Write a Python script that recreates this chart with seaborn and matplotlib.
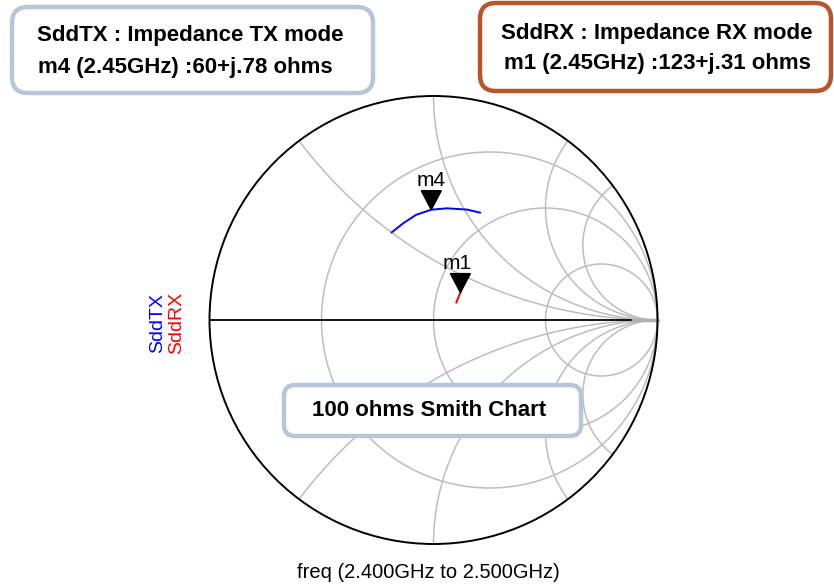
import numpy as np
import pandas as pd
import matplotlib
matplotlib.use("Agg")
import matplotlib.pyplot as plt
from matplotlib.patches import FancyBboxPatch, Circle, Polygon
import seaborn as sns

# impedance traces (ohms, 100 ohm reference)
z0 = 100.0
freq_tx = [2.400, 2.417, 2.433, 2.450, 2.467, 2.483, 2.500]
z_tx = [52+50j, 54+59j, 56+68j, 60+78j, 66+88j, 76+102j, 85+112j]
freq_rx = [2.400, 2.425, 2.450, 2.475, 2.500]
z_rx = [121+19j, 122+25j, 123+31j, 123+37j, 123+43j]
marker_freq = 2.45
marker_tx = "m4"
marker_rx = "m1"

# smith grid values (normalised)
r_circles = [1/3, 1, 3]
x_arcs = [0.5, 1, 2, 3]

title_tx = ["SddTX : Impedance TX mode", "m4 (2.45GHz) :60+j.78 ohms"]
title_rx = ["SddRX : Impedance RX mode", "m1 (2.45GHz) :123+j.31 ohms"]
chart_note = "100 ohms Smith Chart"
freq_label = "freq (2.400GHz to 2.500GHz)"

sns.set_theme(style="white")
plt.rcParams['font.family'] = ['Liberation Sans', 'DejaVu Sans']
plt.rcParams['text.color'] = 'black'

# chart centre / radius in pixels
CX, CY, R = 433.5, 320.0, 224.0
def gx(p):
    return (p - CX) / R
def gy(p):
    return (CY - p) / R

def gamma(z):
    zn = np.asarray(z) / z0
    return (zn - 1) / (zn + 1)

fig = plt.figure(figsize=(8.34, 5.85), dpi=100)
ax = fig.add_axes([0, 0, 1, 1])

grid_col = "#bdbdbd"
# resistance circles
for r in r_circles:
    ax.add_patch(Circle((r/(1+r), 0), 1/(1+r), fill=False, ec=grid_col, lw=1.1, zorder=1))
# reactance arcs
rr = np.tan(np.linspace(0, np.pi/2 - 1e-3, 600))
for x in x_arcs:
    for s in (1, -1):
        zz = rr + 1j*s*x
        g = (zz - 1) / (zz + 1)
        ax.plot(g.real, g.imag, color=grid_col, lw=1.1, zorder=1)

# real axis and outer circle
ax.plot([-1, 0.88], [0, 0], color="black", lw=1.3, zorder=2)
ax.plot([0.88, 1], [0, 0], color="#b0b0b0", lw=2.5, zorder=1)
ax.add_patch(Circle((0, 0), 1, fill=False, ec="black", lw=1.4, zorder=3))

# traces
g_tx = gamma(z_tx)
g_rx = gamma(z_rx)
df_tx = pd.DataFrame({"freq": freq_tx, "re": g_tx.real, "im": g_tx.imag})
df_rx = pd.DataFrame({"freq": freq_rx, "re": g_rx.real, "im": g_rx.imag})
sns.lineplot(data=df_tx, x="re", y="im", sort=False, estimator=None,
             color="blue", lw=1.4, ax=ax, legend=False, zorder=4)
sns.lineplot(data=df_rx, x="re", y="im", sort=False, estimator=None,
             color="red", lw=1.4, ax=ax, legend=False, zorder=4)

# markers
for df, name, dx in [(df_tx, marker_tx, 0), (df_rx, marker_rx, -3)]:
    row = df.loc[(df["freq"] - marker_freq).abs().idxmin()]
    tx, ty = row["re"], row["im"]
    tri = Polygon([[tx, ty], [tx - 10/R, ty + 19/R], [tx + 10/R, ty + 19/R]],
                  closed=True, fc="black", ec="black", zorder=6)
    ax.add_patch(tri)
    ax.text(tx + dx/R, ty + 29/R, name, ha="center", va="center",
            fontsize=15, color="black", zorder=6)

# annotation boxes
def box(x0, y0, x1, y1, col, rad):
    p = FancyBboxPatch((gx(x0), gy(y1)), (x1 - x0)/R, (y1 - y0)/R,
                       boxstyle=f"round,pad=0,rounding_size={rad/R}",
                       fc="white", ec=col, lw=3.2, zorder=7)
    ax.add_patch(p)

box(12, 7, 373, 93, "#b7c5d9", 16)
box(480, 3, 831, 91, "#b9552e", 16)
box(284, 385, 581, 436, "#b7c5d9", 11)

ax.text(gx(190), gy(35), title_tx[0], ha="center", va="center",
        fontsize=16, fontweight="bold", color="black", zorder=8)
ax.text(gx(185), gy(67), title_tx[1], ha="center", va="center",
        fontsize=16, fontweight="bold", color="black", zorder=8)
ax.text(gx(657), gy(33), title_rx[0], ha="center", va="center",
        fontsize=16, fontweight="bold", color="black", zorder=8)
ax.text(gx(657), gy(64), title_rx[1], ha="center", va="center",
        fontsize=16, fontweight="bold", color="black", zorder=8)
ax.text(gx(429), gy(410), chart_note, ha="center", va="center",
        fontsize=16, fontweight="bold", color="black", zorder=8)

# trace names on the left and frequency caption
ax.text(gx(158), gy(323), "SddTX", color="blue", rotation=90,
        ha="center", va="center", fontsize=14)
ax.text(gx(177), gy(323), "SddRX", color="red", rotation=90,
        ha="center", va="center", fontsize=14)
ax.text(gx(428), gy(572), freq_label, ha="center", va="center",
        fontsize=14.5, color="black")

ax.set_xlim(gx(0), gx(834))
ax.set_ylim(gy(585), gy(0))
ax.set_xlabel("")
ax.set_ylabel("")
ax.axis("off")

fig.savefig("out.png", dpi=100)
